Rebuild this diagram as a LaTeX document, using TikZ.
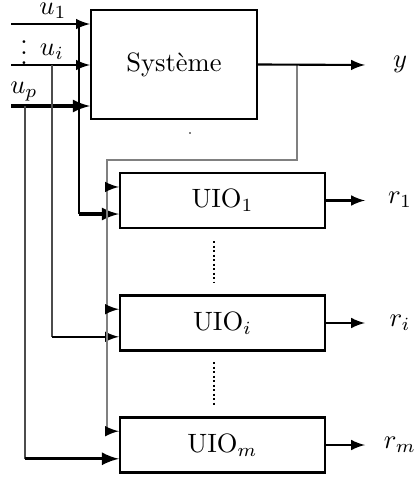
\documentclass[tikz,border=0pt]{standalone}
\usepackage{fontspec}
\usetikzlibrary{positioning}
\begin{document}
\begin{tikzpicture}[x=0.377pt, y=-0.377pt, >=latex]
\tikzset{uio/.style={draw, thick, minimum width=77.3pt, minimum height=20.7pt},
  lbl/.style={inner sep=0.5pt}}
\useasboundingbox (0,0) rectangle (418,478);
\node[draw, thick, minimum width=62.6pt, minimum height=41.1pt] (sys) at (174,64.5) {Système};
\node[uio] (uio1) at (222.5,200.5) {UIO$_1$};
\node[uio] (uioi) at (222.5,323) {UIO$_i$};
\node[uio] (uiom) at (222.5,445) {UIO$_m$};
% labels
\node[lbl] (lu1) at (53,11) {$u_1$};
\node[lbl] (ldots) at (24,45) {$\vdots$};
\node[lbl] (lui) at (52,52) {$u_i$};
\node[lbl] (lup) at (24,92) {$u_p$};
\node[lbl] (ly) at (400,64) {$y$};
\node[lbl] (lr1) at (400,200) {$r_1$};
\node[lbl] (lri) at (400,323) {$r_i$};
\node[lbl] (lrm) at (400,445) {$r_m$};
% inputs
\coordinate (in1) at (11,24);
\coordinate (ini) at (11,65);
\coordinate (inp) at (11,106);
\draw[->, thick] (in1) -- (in1 -| sys.west);
\draw[->, thick] (ini) -- (ini -| sys.west);
\draw[->, very thick] (inp) -- (inp -| sys.west);
% ports of the observers
\coordinate (hi1) at ([yshift=5.1pt]uio1.west);
\coordinate (lo1) at ([yshift=-5.1pt]uio1.west);
\coordinate (hii) at ([yshift=5.2pt]uioi.west);
\coordinate (loi) at ([yshift=-5.2pt]uioi.west);
\coordinate (him) at ([yshift=5.2pt]uiom.west);
\coordinate (lom) at ([yshift=-5.2pt]uiom.west);
% taps on the inputs
\coordinate (t1) at (79,24);
\coordinate (ti) at (52,65);
\coordinate (tp) at (25,106);
\draw[thin] (t1) -- (t1 |- lo1);
\draw[thin, black!70] (ti) -- (ti |- loi);
\draw[thin, black!70] (tp) -- (tp |- lom);
\draw[->, very thick] (t1 |- lo1) -- (lo1);
\draw[->, thick] (ti |- loi) -- (loi);
\draw[->, very thick] (tp |- lom) -- (lom);
% output y fed back
\coordinate (br) at (297,65);
\coordinate (fd) at (107,160);
\draw[gray, semithick] (br) |- (fd) -- (fd |- him);
\draw[->, thick] (fd |- hi1) -- (hi1);
\draw[->, thick] (fd |- hii) -- (hii);
\draw[->, thick] (fd |- him) -- (him);
% outputs
\coordinate (oy) at (365,65);
\coordinate (o1) at (365,200.5);
\coordinate (oi) at (365,323);
\coordinate (om) at (365,445);
\draw[->, thick] (sys.east) -- (oy);
\draw[->, thick] (uio1.east) -- (o1);
\draw[->, thick] (uioi.east) -- (oi);
\draw[->, thick] (uiom.east) -- (om);
% dots between observers
\draw[line width=0.8pt, dash pattern=on 0.8pt off 0.9pt] (214,241) -- (214,283);
\draw[line width=0.8pt, dash pattern=on 0.8pt off 0.9pt] (214,362) -- (214,407);
\fill (190,133) circle (0.8);
\end{tikzpicture}
\end{document}
